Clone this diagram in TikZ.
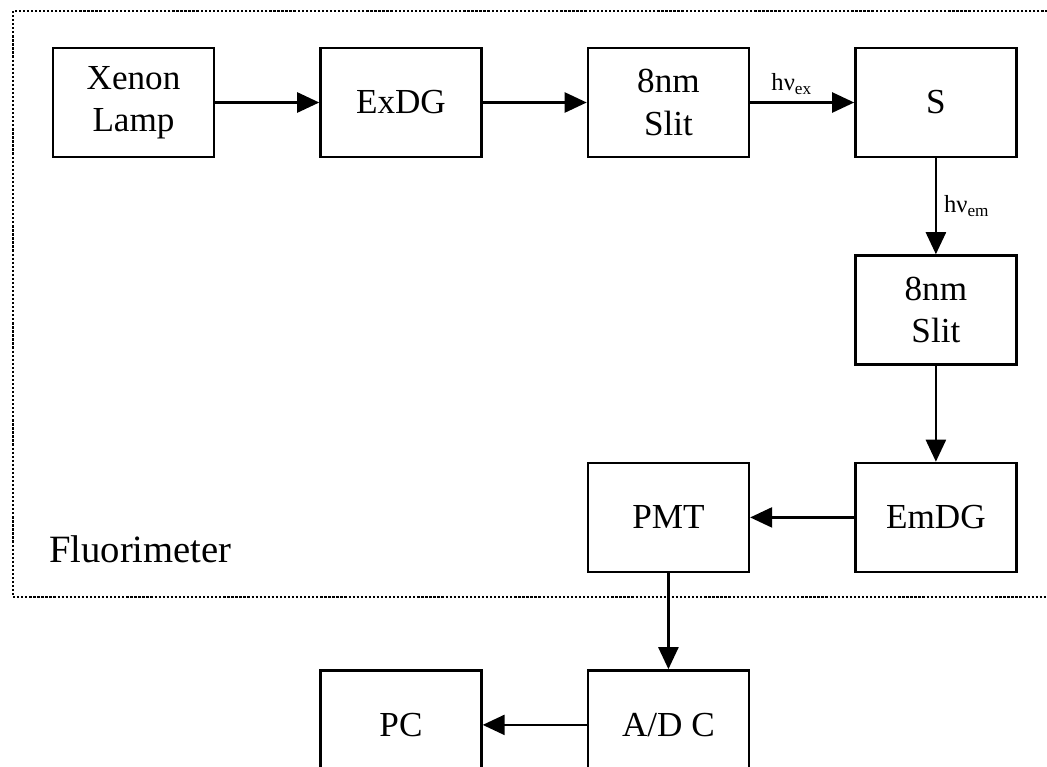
\documentclass[tikz,border=0pt]{standalone}
\usepackage{fontspec}
\setmainfont{Liberation Serif}
\usepackage{tikz}
\usetikzlibrary{arrows.meta,positioning}

\begin{document}
\begin{tikzpicture}[
  node distance=1.92cm and 2.08cm,
  box/.style={draw, line width=1.4pt, align=center, minimum width=3.22cm, minimum height=2.18cm, inner sep=0pt, font=\fontsize{20}{24}\selectfont},
  flow/.style={-{Triangle[length=4.4mm, width=4mm]}, line width=1.4pt},
  photon/.style={font=\fontsize{14}{16}\selectfont, inner sep=4pt}
]
\path[use as bounding box, clip] (0,0) rectangle (20.94,-15.32);

% fluorimeter frame
\draw[densely dotted, line width=1.3pt] (0.26,-0.22) rectangle (21.6,-11.94);
\node[anchor=west, font=\fontsize{22}{26}\selectfont] (fluor) at (0.86,-10.98) {Fluorimeter};

\node[box] (lamp) at (2.67,-2.05) {Xenon\\Lamp};
\node[box, right=of lamp] (exdg) {ExDG};
\node[box, right=of exdg] (slitex) {8nm\\Slit};
\node[box, right=of slitex] (sample) {S};
\node[box, below=of sample] (slitem) {8nm\\Slit};
\node[box, below=of slitem] (emdg) {EmDG};
\node[box, left=of emdg] (pmt) {PMT};
\node[box, below=of pmt] (adc) {A/D C};
\node[box, left=of adc] (pc) {PC};

\draw[flow] (lamp) -- (exdg);
\draw[flow] (exdg) -- (slitex);
\draw[flow] (slitex) -- node[photon, above, pos=0.4] {hν\textsubscript{ex}} (sample);
\draw[flow] (sample) -- node[photon, right] {hν\textsubscript{em}} (slitem);
\draw[flow] (slitem) -- (emdg);
\draw[flow] (emdg) -- (pmt);
\draw[flow] (pmt) -- (adc);
\draw[flow] (adc) -- (pc);
\end{tikzpicture}
\end{document}
